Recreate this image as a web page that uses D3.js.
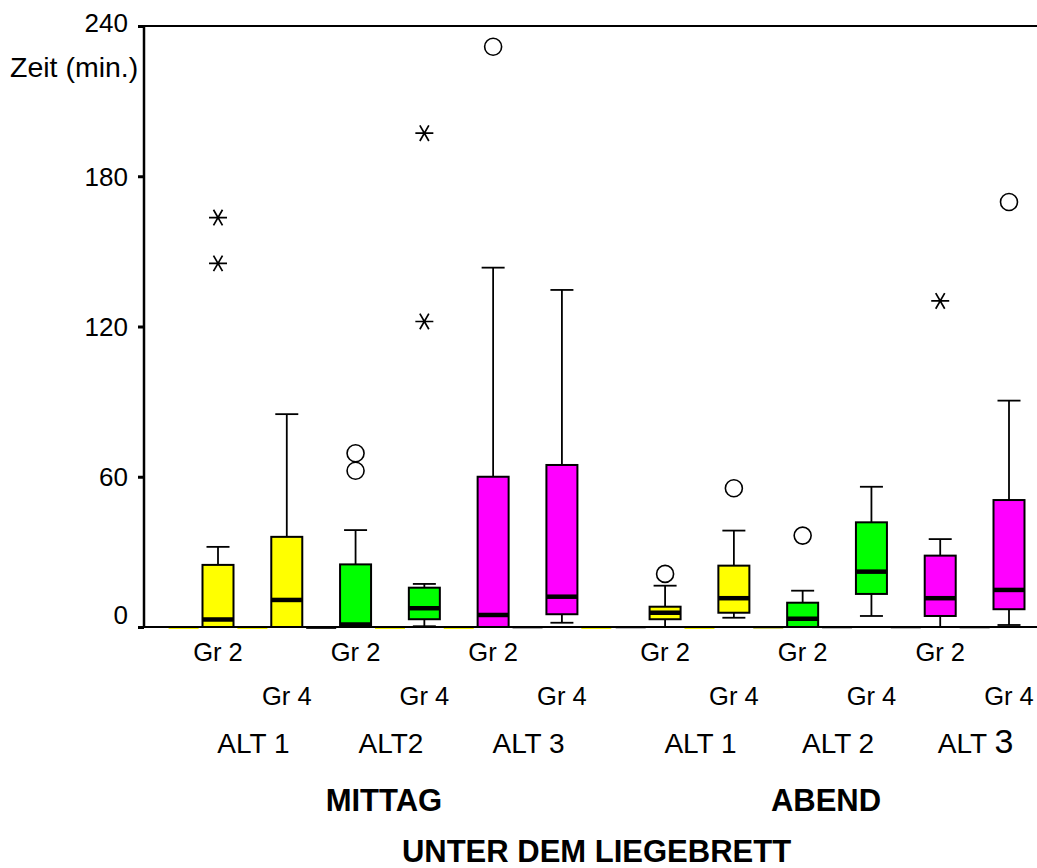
<!DOCTYPE html>
<html>
<head>
<meta charset="utf-8">
<script src="https://cdn.jsdelivr.net/npm/d3@7/dist/d3.min.js"></script>
<style>
  html, body { margin: 0; padding: 0; background: #fff; }
  svg { display: block; }
  text { font-family: "Liberation Sans", Arial, sans-serif; fill: #000; }
</style>
</head>
<body>
<svg id="chart" width="1037" height="868"></svg>
<script>
// ---------- data ----------
const sessions = ["MITTAG", "ABEND"];
const altLabels = ["ALT 1", "ALT2", "ALT 3", "ALT 1", "ALT 2", "ALT "];
const groupLabels = ["Gr 2", "Gr 4", "Gr 2", "Gr 4", "Gr 2", "Gr 4", "Gr 2", "Gr 4", "Gr 2", "Gr 4", "Gr 2", "Gr 4"];
const boxSlots = [0, 1, 2, 3, 4, 5, 6.5, 7.5, 8.5, 9.5, 10.5, 11.5];
const boxColors = ["#FFFF00", "#FFFF00", "#00FF00", "#00FF00", "#FF00FF", "#FF00FF",
                   "#FFFF00", "#FFFF00", "#00FF00", "#00FF00", "#FF00FF", "#FF00FF"];
const whiskerLow  = [0, 0, 0, 0.3, 0, 1.7, 0, 3.7, 0, 4.4, 0, 0.8];
const q1          = [0, 0, 0, 3.1, 0, 5.1, 3.1, 5.7, 0, 13.2, 4.4, 7.1];
const medians     = [3, 10.8, 1, 7.5, 4.8, 12.1, 5.7, 11.5, 3.3, 22.1, 11.5, 14.8];
const q3          = [24.8, 36, 25, 15.7, 60, 64.7, 8.1, 24.5, 9.7, 41.8, 28.5, 50.7];
const whiskerHigh = [32, 85, 38.7, 17.2, 143.5, 134.6, 16.5, 38.5, 14.5, 56, 35.1, 90.4];
const outliers    = [[], [], [69.4, 62.4], [], [231.7], [], [21.2], [55.4], [36.5], [], [], [169.7]];
const extremes    = [[163.5, 145.2], [], [], [197.2, 122], [], [], [], [], [], [], [130.2], []];
const emptySlots  = [-0.5, 0.5, 1.5, 2.5, 3.5, 4.5, 5.5, 6, 7, 8, 9, 10, 11];
const emptyColors = ["#f2f200", "#f2f200", "#222222", "#f2f200", "#f2f200", "#aaaaaa", "#f2f200",
                     "#bbbbbb", "#f2f200", "#cccc66", "#bbbbbb", "#bbbbbb", "#bbbbbb"];
const yTicks = [0, 60, 120, 180, 240];
const yTitle = "Zeit (min.)";
const title = "UNTER DEM LIEGEBRETT";

// ---------- layout ----------
const svg = d3.select("#chart");
const plotLeft = 144, plotRight = 1037, plotTop = 26, plotBottom = 627;
const x = d3.scaleLinear().domain([0, 11.5]).range([218, 1009]);
const y = d3.scaleLinear().domain([0, 240]).range([plotBottom, plotTop]);
const boxW = 31, capW = 23;

// empty-slot dashes at baseline
svg.append("g").selectAll("line").data(emptySlots).join("line")
  .attr("x1", d => x(d) - 15).attr("x2", d => x(d) + 15)
  .attr("y1", plotBottom + 1).attr("y2", plotBottom + 1)
  .attr("stroke", (d, i) => emptyColors[i]).attr("stroke-width", 2);

// axes
const yAxis = d3.axisLeft(y).tickValues(yTicks).tickSize(6).tickPadding(10);
const gy = svg.append("g").attr("transform", `translate(${plotLeft},0)`).call(yAxis);
gy.select(".domain").remove();
gy.selectAll(".tick line").attr("stroke", "#000").attr("stroke-width", 3);
gy.selectAll(".tick text")
  .style("font-size", "26px")
  .attr("x", -16)
  .attr("dy", d => d === 0 ? "-0.15em" : (d === 240 ? "0.22em" : "0.34em"));

svg.append("line").attr("x1", plotLeft).attr("x2", plotLeft)
  .attr("y1", y(240)).attr("y2", y(0)).attr("stroke", "#000").attr("stroke-width", 2.5);
svg.append("line").attr("x1", plotLeft).attr("x2", plotRight)
  .attr("y1", y(240)).attr("y2", y(240)).attr("stroke", "#000").attr("stroke-width", 2);
svg.append("line").attr("x1", plotLeft).attr("x2", plotRight)
  .attr("y1", y(0)).attr("y2", y(0)).attr("stroke", "#000").attr("stroke-width", 2);

svg.append("text").attr("x", 10).attr("y", 77).style("font-size", "28.5px").text(yTitle);

// boxes
const idx = d3.range(boxSlots.length);
const g = svg.append("g");
const box = g.selectAll("g.box").data(idx).join("g").attr("class", "box");

// whiskers
box.append("line")
  .attr("x1", i => x(boxSlots[i])).attr("x2", i => x(boxSlots[i]))
  .attr("y1", i => y(q3[i])).attr("y2", i => y(whiskerHigh[i]))
  .attr("stroke", "#000").attr("stroke-width", 1.8);
box.append("line")
  .attr("x1", i => x(boxSlots[i])).attr("x2", i => x(boxSlots[i]))
  .attr("y1", i => y(q1[i])).attr("y2", i => y(whiskerLow[i]))
  .attr("stroke", "#000").attr("stroke-width", 1.8);
box.append("line")
  .attr("x1", i => x(boxSlots[i]) - capW / 2).attr("x2", i => x(boxSlots[i]) + capW / 2)
  .attr("y1", i => y(whiskerHigh[i])).attr("y2", i => y(whiskerHigh[i]))
  .attr("stroke", "#000").attr("stroke-width", 1.8);
box.append("line")
  .attr("x1", i => x(boxSlots[i]) - capW / 2).attr("x2", i => x(boxSlots[i]) + capW / 2)
  .attr("y1", i => y(whiskerLow[i])).attr("y2", i => y(whiskerLow[i]))
  .attr("stroke", "#000").attr("stroke-width", 1.8);

// box rect
box.append("rect")
  .attr("x", i => x(boxSlots[i]) - boxW / 2)
  .attr("width", boxW)
  .attr("y", i => y(q3[i]))
  .attr("height", i => y(q1[i]) - y(q3[i]))
  .attr("fill", i => boxColors[i])
  .attr("stroke", "#000").attr("stroke-width", 2);

// median
box.append("line")
  .attr("x1", i => x(boxSlots[i]) - boxW / 2).attr("x2", i => x(boxSlots[i]) + boxW / 2)
  .attr("y1", i => y(medians[i])).attr("y2", i => y(medians[i]))
  .attr("stroke", "#000").attr("stroke-width", 4.5);

// outliers (circles)
const outPts = idx.flatMap(i => outliers[i].map(v => ({ i, v })));
g.selectAll("circle.out").data(outPts).join("circle").attr("class", "out")
  .attr("cx", d => x(boxSlots[d.i])).attr("cy", d => y(d.v)).attr("r", 8.5)
  .attr("fill", "#fff").attr("stroke", "#000").attr("stroke-width", 1.6);

// extremes (asterisks)
const extPts = idx.flatMap(i => extremes[i].map(v => ({ i, v })));
const r = 9;
const star = d3.range(3).map(k => {
  const a = k * Math.PI / 3;
  return `M${-r * Math.cos(a)},${-r * Math.sin(a)}L${r * Math.cos(a)},${r * Math.sin(a)}`;
}).join("");
g.selectAll("path.ext").data(extPts).join("path").attr("class", "ext")
  .attr("transform", d => `translate(${x(boxSlots[d.i])},${y(d.v)})`)
  .attr("d", star).attr("stroke", "#000").attr("stroke-width", 1.7).attr("fill", "none");

// group labels
svg.append("g").selectAll("text").data(idx).join("text")
  .attr("x", i => x(boxSlots[i]))
  .attr("y", i => (i % 2 === 0 ? 661 : 705))
  .attr("text-anchor", "middle").style("font-size", "25.5px")
  .text(i => groupLabels[i]);

// ALT labels
const altT = svg.append("g").selectAll("text").data(d3.range(altLabels.length)).join("text")
  .attr("x", k => (x(boxSlots[2 * k]) + x(boxSlots[2 * k + 1])) / 2 + 1)
  .attr("y", 753)
  .attr("text-anchor", "middle").style("font-size", "28px")
  .text(k => altLabels[k]);
altT.filter(k => k === 5).append("tspan").style("font-size", "34px").text("3");

// session labels
const sessionOffsets = [-6, -11];
svg.append("g").selectAll("text").data(sessions).join("text")
  .attr("x", (s, j) => (x(boxSlots[6 * j]) + x(boxSlots[6 * j + 5])) / 2 + sessionOffsets[j])
  .attr("y", 811)
  .attr("text-anchor", "middle").style("font-size", "31px").style("font-weight", "bold")
  .text(s => s);

svg.append("text")
  .attr("x", (plotLeft + plotRight) / 2 + 6).attr("y", 862)
  .attr("text-anchor", "middle").style("font-size", "31px").style("font-weight", "bold")
  .text(title);
</script>
</body>
</html>
